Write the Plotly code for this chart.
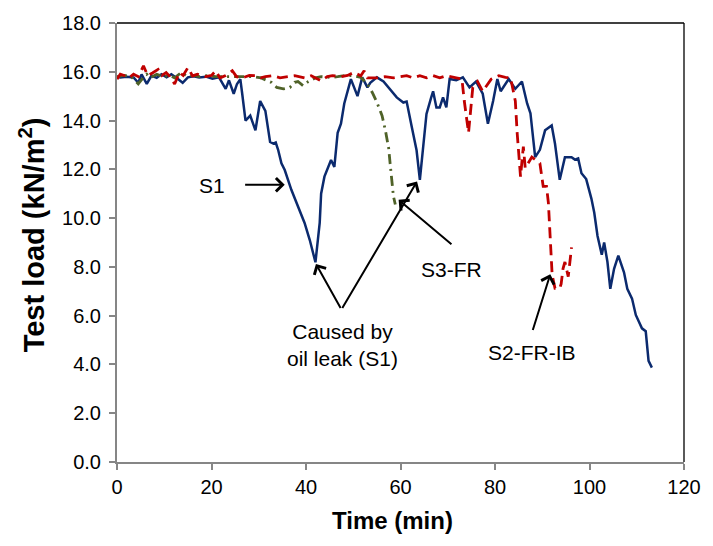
import plotly.graph_objects as go

# ---- data ----
s1_time = [0, 0.7, 2, 3.5, 4.5, 5.2, 6.3, 7.3, 8.4, 9.4, 10.5, 11.5, 12.9, 13.9, 15, 16.2, 17.4,
           18.8, 20.2, 21.6, 22.6, 23, 23.7, 24.7, 25.4, 26.1, 26.5, 27.2, 28.2, 29.3, 30.3, 31.4,
           32.4, 33.1, 33.6, 34.1, 34.8, 35.5, 36.9, 38.3, 39.7, 40.8, 42.0, 42.9, 43.2, 43.9, 45.3,
           46.0, 46.7, 47.4, 48.1, 49.5, 50.9, 51.9, 53.0, 53.6, 55.0, 56.4, 57.5, 59.2, 60.6, 61.3,
           62.4, 63.4, 64.1, 64.8, 65.5, 66.5, 66.9, 67.6, 68.3, 69.0, 69.7, 70.4, 71.8, 73.2, 74.6,
           76.0, 77.4, 78.5, 79.6, 80.5, 81.2, 82.9, 84.3, 85.7, 86.8, 87.5, 88.1, 88.5, 89.5, 90.6,
           92.0, 92.7, 93.7, 94.8, 96.2, 96.9, 97.6, 98.3, 99.3, 100.4, 101.0, 101.7, 102.6, 103.1,
           103.8, 104.4, 105.2, 106.1, 107.3, 108.0, 109.0, 109.8, 111.1, 111.9, 112.5, 113.2]
s1_load = [15.8, 15.77, 15.8, 15.77, 15.55, 15.89, 15.5, 15.84, 15.75, 15.9, 15.77, 15.9, 15.7, 15.55,
           15.77, 15.82, 15.77, 15.8, 15.72, 15.77, 15.43, 15.3, 15.65, 15.1, 15.5, 15.7, 15.1, 14.0,
           14.2, 13.6, 14.8, 14.4, 13.12, 13.05, 13.1, 12.8, 12.25, 11.97, 11.16, 10.5, 9.8, 9.1, 8.19,
           9.8, 11.0, 11.7, 12.38, 12.1, 13.5, 13.87, 14.7, 15.7, 15.0, 15.77, 15.36, 15.55, 15.77,
           15.6, 15.36, 14.95, 14.74, 14.78, 13.73, 12.78, 11.57, 13.05, 14.27, 14.95, 15.2, 14.54,
           14.54, 14.95, 14.54, 15.7, 15.65, 15.77, 15.36, 15.6, 15.1, 13.87, 14.8, 15.7, 15.2, 15.7,
           15.3, 15.6, 14.7, 14.3, 13.32, 12.5, 12.8, 13.6, 13.8, 13.05, 11.57, 12.5, 12.5, 12.4, 12.45,
           11.84, 11.6, 10.8, 10.23, 9.27, 8.5, 9.0, 8.2, 7.1, 7.92, 8.46, 7.78, 7.1, 6.7, 6.03, 5.48,
           5.36, 4.15, 3.87]

s2_time = [0, 0.7, 1.5, 2.5, 3.5, 4.5, 5.6, 6.5, 7.5, 8.7, 9.5, 10.4, 11.2, 12.2, 13.2, 14.0, 15.0,
           16.0, 17.0, 18.8, 20.0, 20.9, 21.8, 23.0, 24.4, 25.3, 26.5, 28.0, 29.3, 30.4, 31.4, 33.0,
           34.5, 36.0, 37.6, 39.7, 41.1, 43.2, 44.5, 45.6, 47.5, 48.8, 50.1, 51.6, 52.3, 53.0, 55.0,
           56.7, 58.5, 60.0, 61.3, 62.7, 64.1, 65.5, 66.9, 68.3, 69.7, 71.8, 73.0, 73.5, 74.2, 74.4,
           75.3, 76.3, 77.4, 78.4, 79.2, 80.8, 82.2, 83.3, 84.3, 84.7, 85.0, 85.4, 86.0, 86.4, 87.8,
           89.5, 90.2, 90.9, 91.3, 91.6, 92.0, 92.1, 92.7, 93.7, 94.0, 94.4, 94.8, 95.5, 96.2]
s2_load = [15.7, 15.9, 15.85, 15.75, 15.9, 15.8, 16.24, 15.85, 15.95, 16.1, 15.85, 15.97, 15.8, 15.5,
           15.97, 15.85, 16.17, 15.83, 15.9, 15.8, 15.85, 16.04, 15.75, 15.85, 16.04, 15.8, 15.75,
           15.85, 15.84, 15.75, 15.8, 15.84, 15.75, 15.8, 15.84, 15.75, 15.84, 15.63, 15.8, 15.84,
           15.8, 15.85, 15.97, 15.84, 16.04, 15.75, 15.75, 15.8, 15.75, 15.8, 15.84, 15.75, 15.84,
           15.75, 15.84, 15.75, 15.84, 15.75, 15.7, 14.8, 13.87, 13.5, 15.36, 15.6, 15.2, 15.5, 15.7,
           15.84, 15.77, 15.75, 14.8, 13.47, 12.66, 11.7, 12.93, 12.05, 12.5, 12.25, 11.3, 11.3, 10.63,
           9.55, 8.47, 7.66, 7.12, 7.12, 7.3, 7.93, 8.2, 7.6, 8.8]

s3_time = [0, 1.5, 3.0, 4.5, 5.5, 6.3, 7.0, 8.4, 9.8, 11.1, 12.2, 13.6, 15.0, 16.0, 17.5, 19.0, 20.9,
           22.5, 24.4, 26.0, 27.5, 28.9, 30.5, 32.7, 33.8, 35.2, 36.6, 37.6, 38.3, 39.4, 40.5, 42.0,
           43.2, 45.3, 46.7, 48.1, 49.8, 51.6, 53.0, 54.0, 55.0, 56.1, 56.8, 57.5, 57.8, 58.2, 58.5, 58.9]
s3_load = [15.8, 15.85, 15.8, 15.5, 15.75, 15.9, 15.75, 15.9, 15.8, 15.85, 15.75, 15.97, 15.8, 15.85,
           15.8, 15.84, 15.8, 15.8, 15.77, 15.8, 15.77, 15.8, 15.75, 15.56, 15.36, 15.3, 15.36, 15.57,
           15.6, 15.43, 15.6, 15.75, 15.8, 15.77, 15.8, 15.84, 15.84, 15.77, 15.5, 15.16, 14.75, 14.2,
           13.6, 12.86, 12.25, 11.44, 10.9, 10.56]

x_ticks = [0, 20, 40, 60, 80, 100, 120]
y_ticks = [0, 2, 4, 6, 8, 10, 12, 14, 16, 18]

# arrows: (head_x, head_y, tail_x, tail_y)
arrows = [
    (35.5, 11.37, 26.8, 11.37),   # S1
    (42.1, 8.12, 47.5, 6.25),     # caused by -> S1 min
    (63.5, 11.5, 47.5, 6.25),     # caused by -> S1 second dip
    (59.6, 10.75, 71.1, 8.88),    # S3-FR
    (91.7, 7.7, 87.9, 5.35),      # S2-FR-IB
]
# labels: (text, x, y)
labels = [
    ("S1", 20.1, 11.35),
    ("Caused by<br>oil leak (S1)", 47.7, 4.78),
    ("S3-FR", 70.7, 7.88),
    ("S2-FR-IB", 87.9, 4.47),
]

BLUE = "#0B2A6E"
RED = "#C00000"
GREEN = "#4F6228"
AXIS_GRAY = "#868686"
FONT = "Liberation Sans, Arial, sans-serif"

fig = go.Figure()
fig.add_trace(go.Scatter(x=s1_time, y=s1_load, mode="lines", name="S1",
                         line=dict(color=BLUE, width=2.5)))
fig.add_trace(go.Scatter(x=s3_time, y=s3_load, mode="lines", name="S3-FR",
                         line=dict(color=GREEN, width=2.8, dash="10px,5px,2px,5px")))
fig.add_trace(go.Scatter(x=s2_time, y=s2_load, mode="lines", name="S2-FR-IB",
                         line=dict(color=RED, width=2.8, dash="11px,6px")))

annotations = []
for hx, hy, tx, ty in arrows:
    annotations.append(dict(
        x=hx, y=hy, ax=tx, ay=ty, xref="x", yref="y", axref="x", ayref="y",
        text="", showarrow=True, arrowhead=4, arrowsize=1.3, arrowwidth=2,
        arrowcolor="black", standoff=0))
for txt, x, y in labels:
    annotations.append(dict(x=x, y=y, xref="x", yref="y", text=txt, showarrow=False,
                            font=dict(family=FONT, size=21, color="black")))
# axis titles
annotations.append(dict(x=(31 - 117) / 574, y=(462.3 - 233) / 444, xref="paper", yref="paper",
                        text="<b>Test load (kN/m<sup>2</sup>)</b>", textangle=-90,
                        showarrow=False, xanchor="center", yanchor="middle",
                        font=dict(family=FONT, size=29, color="black")))
annotations.append(dict(x=(396 - 117) / 574, y=(462.3 - 521) / 444, xref="paper", yref="paper",
                        text="<b>Time (min)</b>", showarrow=False, xanchor="center",
                        yanchor="middle", font=dict(family=FONT, size=24, color="black")))

fig.update_layout(
    width=713, height=546,
    margin=dict(l=117, r=22, t=18, b=84),
    paper_bgcolor="white", plot_bgcolor="white",
    showlegend=False,
    font=dict(family=FONT, size=20, color="black"),
    annotations=annotations,
    shapes=[
        dict(type="line", xref="paper", yref="paper", x0=0, x1=1, y0=1, y1=1,
             line=dict(color="black", width=1.3)),
        dict(type="line", xref="paper", yref="paper", x0=1, x1=1, y0=0, y1=1,
             line=dict(color="black", width=1.3)),
    ],
)
fig.update_xaxes(range=[0, 120], tickvals=x_ticks, ticktext=[str(v) for v in x_ticks],
                 ticks="outside", ticklen=6, tickwidth=1.5, tickcolor=AXIS_GRAY,
                 showline=True, linecolor=AXIS_GRAY, linewidth=2, showgrid=False, zeroline=False,
                 tickfont=dict(family=FONT, size=20))
fig.update_yaxes(range=[0, 18], tickvals=y_ticks, ticktext=[f"{v:.1f}" for v in y_ticks],
                 ticks="outside", ticklen=6, tickwidth=1.5, tickcolor=AXIS_GRAY,
                 showline=True, linecolor=AXIS_GRAY, linewidth=2, showgrid=False, zeroline=False,
                 ticklabelstandoff=4,
                 tickfont=dict(family=FONT, size=20))

fig.write_html("out.html")
